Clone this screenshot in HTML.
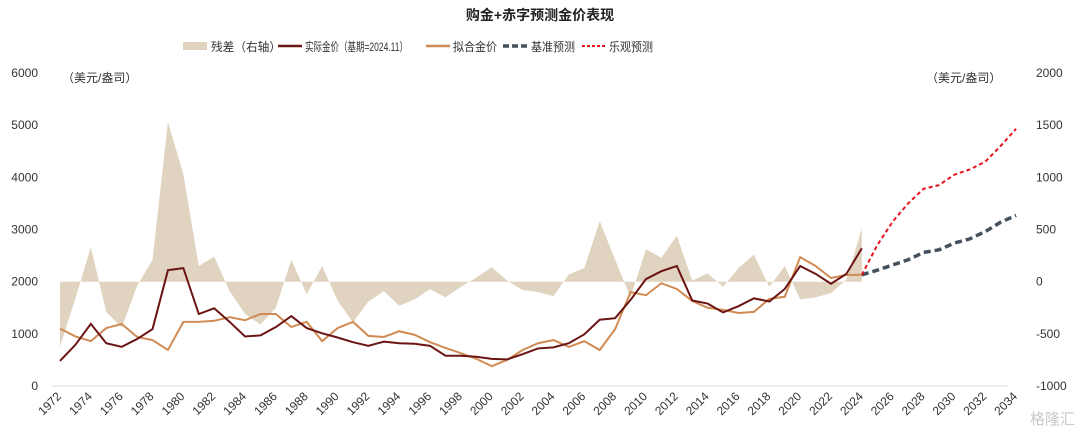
<!DOCTYPE html>
<html><head><meta charset="utf-8"><style>
body{margin:0;background:#fff;}
svg{display:block;font-family:"Liberation Sans","Noto Sans CJK SC",sans-serif;}
</style></head><body>
<svg id="chart" width="1080" height="429">
<text x="540" y="20" text-anchor="middle" font-size="14" font-weight="bold" fill="#222">购金+赤字预测金价表现</text>
<g font-size="12" fill="#333">
<g><rect x="183" y="42" width="24" height="8" fill="#e0d3bf"/><text x="211" y="51" textLength="70" lengthAdjust="spacingAndGlyphs">残差（右轴）</text></g>
<g><line x1="278" y1="46" x2="302" y2="46" stroke="#6b1414" stroke-width="2.5"/><text x="305" y="51" textLength="103" lengthAdjust="spacingAndGlyphs">实际金价（基期=2024.11）</text></g>
<g><line x1="426" y1="46" x2="450" y2="46" stroke="#d08b55" stroke-width="2.5"/><text x="453" y="51" textLength="44" lengthAdjust="spacingAndGlyphs">拟合金价</text></g>
<g><line x1="503" y1="46" x2="527" y2="46" stroke="#44505c" stroke-width="3.5" stroke-dasharray="6,3"/><text x="531" y="51" textLength="44" lengthAdjust="spacingAndGlyphs">基准预测</text></g>
<g><line x1="582" y1="46" x2="605" y2="46" stroke="#e8141e" stroke-width="2" stroke-dasharray="3,2"/><text x="609" y="51" textLength="44" lengthAdjust="spacingAndGlyphs">乐观预测</text></g>
</g>
<text x="62" y="82" font-size="12" fill="#333">（美元/盎司）</text>
<text x="926" y="82" font-size="12" fill="#333">（美元/盎司）</text>
<line x1="52" y1="386" x2="1008" y2="386" stroke="#d9d9d9"/>
<g id="layer"></g>
<text x="1075" y="424" text-anchor="end" font-size="15" fill="#c8c8c8">格隆汇</text>
</svg>
<script>
const years=[];for(let y=1972;y<=2024;y++)years.push(y);
const actual=[480,790,1190,820,750,900,1090,2220,2260,1380,1490,1230,950,970,1130,1340,1110,1010,930,840,770,850,820,810,770,580,580,560,520,510,610,720,740,820,990,1270,1300,1650,2050,2200,2300,1640,1580,1410,1530,1680,1620,1860,2300,2150,1960,2150,2640];
const fitted=[1100,950,860,1110,1190,940,880,690,1230,1230,1250,1320,1260,1380,1380,1130,1230,860,1110,1230,960,940,1050,980,840,730,630,520,380,500,690,820,880,750,860,690,1090,1800,1740,1970,1860,1630,1500,1460,1400,1420,1670,1710,2470,2300,2070,2130,2130];
const residual=[-620,-160,330,-290,-440,-40,210,1530,1030,150,240,-90,-310,-410,-250,210,-120,150,-180,-390,-190,-90,-230,-170,-70,-150,-50,40,140,10,-80,-100,-140,70,130,580,210,-150,310,230,440,10,80,-50,130,260,-50,150,-170,-150,-110,20,510];
const fYears=[2024,2025,2026,2027,2028,2029,2030,2031,2032,2033,2034];
const baseline=[2130,2220,2320,2420,2560,2610,2740,2820,2960,3140,3270];
const optimistic=[2130,2700,3150,3500,3780,3850,4050,4150,4300,4600,4930];
const leftTicks=[0,1000,2000,3000,4000,5000,6000];
const rightTicks=[-1000,-500,0,500,1000,1500,2000];
const xLabels=[];for(let y=1972;y<=2034;y+=2)xLabels.push(y);

const NS="http://www.w3.org/2000/svg";
const X=yr=>60+(yr-1972)*15.42;
const YL=v=>386-v*0.052167;
const YR=v=>281.7-v*0.104333;
const layer=document.getElementById('layer');
function mk(t,a){const e=document.createElementNS(NS,t);for(const k in a)e.setAttribute(k,a[k]);layer.appendChild(e);return e;}

let d=`M${X(years[0])},${YR(0)}`;
residual.forEach((v,i)=>{d+=` L${X(years[i])},${YR(v)}`;});
d+=` L${X(years[years.length-1])},${YR(0)} Z`;
const area=mk('path',{d:d,fill:'#e0d3bf'});



function line(xs,vs,attrs,name){
  const p=mk('path',Object.assign({d:vs.map((v,i)=>(i?'L':'M')+X(xs[i])+','+YL(v)).join(' '),fill:'none'},attrs));
  
  
}
line(years,fitted,{stroke:'#d08b55','stroke-width':2},'fitted-price-line');
line(years,actual,{stroke:'#6b1414','stroke-width':2},'actual-price-line');
line(fYears,baseline,{stroke:'#44505c','stroke-width':3.5,'stroke-dasharray':'7,4'},'baseline-forecast-line');
line(fYears,optimistic,{stroke:'#e8141e','stroke-width':2,'stroke-dasharray':'4,3'},'optimistic-forecast-line');

leftTicks.forEach(v=>{
  const t=mk('text',{x:38,y:YL(v)+4,'text-anchor':'end','font-size':12,fill:'#333'});
  t.textContent=v;
  
  
});
rightTicks.forEach(v=>{
  const t=mk('text',{x:1036,y:YR(v)+4,'font-size':12,fill:'#333'});
  t.textContent=v;
  
  
});
xLabels.forEach(y=>{
  const x=X(y)+2,yy=397;
  const t=mk('text',{x:x,y:yy,'text-anchor':'end','font-size':12,fill:'#333',transform:`rotate(-45 ${x} ${yy})`});
  t.textContent=y;
  
  
});
</script>
</body></html>
